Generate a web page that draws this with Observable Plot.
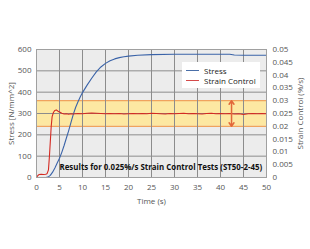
<!DOCTYPE html>
<html><head><meta charset="utf-8">
<script src="https://cdn.jsdelivr.net/npm/d3@7"></script>
<script src="https://cdn.jsdelivr.net/npm/@observablehq/plot@0.6"></script>
<style>
body{margin:0;background:#fff;font-family:"Open Sans",sans-serif}
#wrap{position:relative;width:310px;height:249px}
.leg{position:absolute;left:182px;top:62px;width:78px;height:26px;background:#fff;font-size:8px;color:#222;font-family:"Open Sans",sans-serif}
.leg div{position:absolute;left:4px;height:10px;display:flex;align-items:center;white-space:nowrap}
.leg span.sw{display:inline-block;width:13px;height:1px;margin-right:5px}
</style></head><body><div id="wrap"></div>
<script>
// Stress curve (N/mm^2) vs time (s)
const stressTime = [0,1,2,2.5,3,3.5,4,4.5,5,5.5,6,6.5,7,7.5,8,8.5,9,9.5,10,11,12,13,14,15,16,17,18,19,20,22,25,30,35,40,42,43,45,50];
const stressVals = [0,0,0,2,10,25,45,68,90,118,150,185,220,258,296,328,354,377,398,433,465,495,518,535,547,556,562,566,569,573,576,578,578,578,578,574,573,573];
// Strain control (%/s) vs time (s)
const strainTime = [0,0.3,0.6,1,1.5,2,2.3,2.6,2.8,3,3.2,3.4,3.7,4,4.3,4.7,5,5.5,6,6.5,7,7.5,8,9,10,11,12,13,14,15,16,17,18,19,20,21,22,23,24,25,26,27,28,29,30,31,32,33,34,35,36,37,38,39,40,41,42,43,44,45,46,47,48,49,50];
const strainVals = [0,0.0008,0.0012,0.0013,0.0012,0.0013,0.0015,0.003,0.008,0.014,0.020,0.0238,0.0255,0.0262,0.0264,0.0259,0.0256,0.0251,0.0248,0.0249,0.0247,0.0249,0.0248,0.0250,0.0249,0.0251,0.0252,0.0251,0.0250,0.0249,0.0250,0.0249,0.0250,0.0248,0.0249,0.0250,0.0249,0.0250,0.0249,0.0251,0.0250,0.0249,0.0248,0.0250,0.0249,0.0250,0.0251,0.0249,0.0250,0.0249,0.0248,0.0250,0.0251,0.0249,0.0250,0.0249,0.0250,0.0248,0.0249,0.0246,0.0249,0.0250,0.0249,0.0250,0.0249];
// Tolerance band (strain) and arrow position
const bandStrain = [0.02, 0.03];
const bandTarget = [0.025];
const arrowTime = [42.4];
// Ticks
const xTicks = [0,5,10,15,20,25,30,35,40,45,50];
const yTicks = [0,100,200,300,400,500,600];
const strainTicks = [0,0.005,0.01,0.015,0.02,0.025,0.03,0.035,0.04,0.045,0.05];
const strainMax = 0.05, stressMax = 600;
const toStress = s => s * stressMax / strainMax;
const annotation = ["Results for 0.025%/s Strain Control Tests (ST50-2-45)"];

const stress = stressTime.map((t,i)=>({t, v: stressVals[i]}));
const strain = strainTime.map((t,i)=>({t, v: strainVals[i]}));
const band = [{y1: toStress(bandStrain[0]), y2: toStress(bandStrain[1])}];
const fmtStrain = d => { const s = d * strainMax / stressMax; return s === 0 ? "0" : String(+s.toFixed(3)); };

const chart = Plot.plot({
  width: 310, height: 249,
  marginLeft: 36, marginRight: 44, marginTop: 49, marginBottom: 72,
  style: {fontFamily: '"Open Sans", sans-serif', fontSize: "8px", color: "#555", background: "#fff"},
  x: {domain: [0,50]},
  y: {domain: [0,600]},
  marks: [
    Plot.frame({fill: "#ececec", stroke: null}),
    Plot.rect(band, {x1: 0, x2: 50, y1: "y1", y2: "y2", fill: "#fde8a2"}),
    Plot.ruleY(yTicks, {stroke: "#8c8c8c", strokeWidth: 1}),
    Plot.ruleY(bandStrain.map(toStress), {stroke: "#f0a35e", strokeWidth: 1.2}),
    Plot.tickX(xTicks, {x: d => d, y1: 0, y2: 12, stroke: "#8c8c8c"}),
    Plot.line(stress, {x: "t", y: "v", stroke: "#3a63a8", strokeWidth: 1.1}),
    Plot.line(strain, {x: "t", y: d => toStress(d.v), stroke: "#d42a22", strokeWidth: 1.1}),
    Plot.arrow(arrowTime, {x: d => d, y1: toStress(bandTarget[0]), y2: toStress(bandStrain[1]) , stroke: "#e2673a", strokeWidth: 1.5, headLength: 5, headAngle: 70, insetEnd: 0}),
    Plot.arrow(arrowTime, {x: d => d, y1: toStress(bandTarget[0]), y2: toStress(bandStrain[0]) , stroke: "#e2673a", strokeWidth: 1.5, headLength: 5, headAngle: 70, insetEnd: 0}),
    Plot.frame({stroke: "#a0a0a0"}),
    Plot.text(annotation, {x: 5, y: 48, text: d => d, textAnchor: "start", fontWeight: "bold", fontSize: 7.9, fill: "#111"}),
    Plot.axisY({ticks: yTicks, tickSize: 0, tickPadding: 5, label: "Stress [N/mm^2]", labelAnchor: "center", labelArrow: "none", labelOffset: 28, fill: "#555"}),
    Plot.axisY({anchor: "right", ticks: strainTicks.map(toStress), tickSize: 0, tickPadding: 6, tickFormat: fmtStrain, label: "Strain Control (%/s)", labelAnchor: "center", labelArrow: "none", labelOffset: 36, fill: "#555"}),
    Plot.axisX({ticks: xTicks, tickSize: 0, tickPadding: 7, label: "Time (s)", labelAnchor: "center", labelArrow: "none", labelOffset: 26, fill: "#555"})
  ]
});
const wrap = document.getElementById("wrap");
wrap.appendChild(chart);
const leg = document.createElement("div");
leg.className = "leg";
leg.innerHTML = '<div style="top:3px"><span class="sw" style="background:#4a6fa8"></span>Stress</div>' +
                '<div style="top:13px"><span class="sw" style="background:#d44a4a"></span>Strain Control</div>';
wrap.appendChild(leg);
</script>
</body></html>
